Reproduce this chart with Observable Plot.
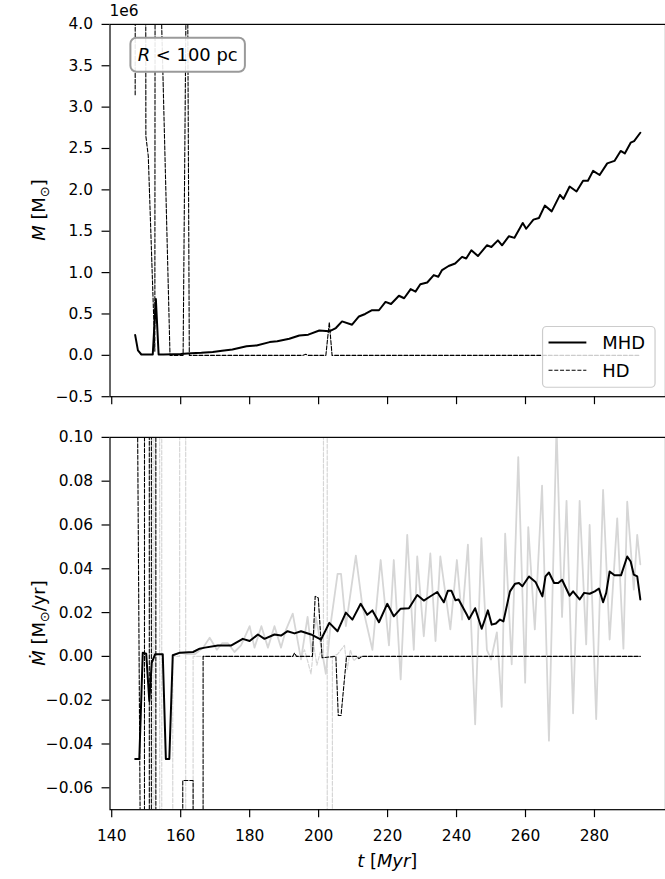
<!DOCTYPE html>
<html><head><meta charset="utf-8">
<script src="https://cdn.jsdelivr.net/npm/d3@7"></script>
<script src="https://cdn.jsdelivr.net/npm/@observablehq/plot@0.6"></script>
<style>
html,body{margin:0;padding:0;overflow:hidden;background:#fff;}
#wrap{position:relative;width:665px;height:879px;overflow:hidden;font-family:"DejaVu Sans",sans-serif;}
#wrap svg{position:absolute;left:0;}
</style></head><body><div id="wrap"></div>
<script>
// ---------- data ----------
const xTicks = [140,160,180,200,220,240,260,280];
const topYTicks = [-0.5,0,0.5,1,1.5,2,2.5,3,3.5,4];
const botYTicks = [-0.06,-0.04,-0.02,0,0.02,0.04,0.06,0.08,0.10];

// top panel: M [1e6 Msun], MHD (solid)
const tTopMHD = [146.8,147.6,148.6,149.6,150.6,151.9,152.8,153.6,155,158,160,163,166,169.3,172,175,179.1,182,185.8,188,191.5,194.4,197,200.2,203.1,205,206.8,209.7,211.7,213.5,215.5,217.5,219.4,221,223.3,224.8,226.7,228.1,229.5,231.5,233.4,234.7,235.8,237.7,239.6,241.6,242.8,244.3,246.2,248.8,250.1,252,253.2,255.2,256.8,259.2,260.2,262.3,263.9,265.6,267.6,270,271,272.8,274.8,276.7,278.1,279.6,281.5,283.7,285.8,287.6,288.8,290.5,291.5,293.3];
const mTopMHD = [0.245,0.06,0.01,0.01,0.01,0.01,0.68,0.01,0.01,0.012,0.015,0.025,0.03,0.04,0.055,0.07,0.11,0.12,0.16,0.17,0.2,0.24,0.25,0.30,0.29,0.33,0.41,0.37,0.47,0.5,0.545,0.545,0.646,0.62,0.72,0.69,0.80,0.77,0.86,0.88,0.97,0.95,1.03,1.08,1.11,1.19,1.17,1.27,1.20,1.33,1.31,1.39,1.33,1.44,1.42,1.60,1.53,1.64,1.66,1.81,1.74,1.94,1.89,2.04,1.98,2.11,2.11,2.23,2.18,2.32,2.35,2.47,2.44,2.57,2.59,2.69];
// top panel: HD (dashed)
const tTopHD = [146.8,147.2,149.3,149.9,150.6,152.5,153.0,154.3,156.9,160.7,161.6,161.8,161.95,162.5,195.5,196.3,197.0,202.1,203.1,203.9,293.3];
const mTopHD = [3.15,30,30,2.65,2.41,0.05,30,4.3,0.0,0.0,4.5,30,5,0.0,0.0,0.012,0.0,0.0,0.40,0.0,0.0];

// bottom panel: dM/dt [Msun/yr], MHD smoothed (solid black)
const tBotMHD = [146.8,148.0,149.0,150.0,150.9,151.6,152.6,154.8,155.7,156.7,157.7,159.8,163.6,165.5,167,170.8,174.7,178,180,182.4,184.3,187.2,189.1,191,193,194.9,197.8,200.7,203.1,205.5,207.9,209.8,212.2,214.1,215.6,217.5,219.9,221.8,223.8,226.2,228.6,230.5,232,234.4,236.3,237.5,238.5,239.7,240.6,243,243.6,245.4,247.3,249.1,250.2,251.4,252.6,253.6,255.5,257,258.1,259.1,261,262.9,264.9,265.8,266.8,268.3,269.5,270.6,272.8,273.8,275.7,277,278.6,280.1,281.3,282.5,283.4,284.4,285.8,287.7,289.5,290.5,291.4,292.4,293.3];
const dBotMHD = [-0.0468,-0.0468,0.0017,0.0012,-0.0203,-0.003,0.001,0.001,-0.0468,-0.0468,0.0005,0.0017,0.002,0.0035,0.004,0.005,0.005,0.008,0.007,0.010,0.008,0.010,0.0095,0.0115,0.0105,0.0115,0.010,0.0077,0.0153,0.0115,0.020,0.0168,0.024,0.019,0.021,0.0156,0.024,0.0183,0.0218,0.022,0.028,0.0255,0.027,0.0294,0.0247,0.030,0.030,0.0256,0.026,0.019,0.017,0.022,0.0126,0.021,0.0145,0.015,0.0168,0.016,0.0297,0.0332,0.0335,0.032,0.0365,0.034,0.0274,0.0365,0.0383,0.0335,0.0335,0.035,0.0277,0.0297,0.026,0.029,0.0286,0.0297,0.031,0.0247,0.029,0.0388,0.037,0.037,0.0456,0.0433,0.0373,0.0365,0.026];
// bottom panel: MHD raw (light grey solid)
const tBotMHDraw = [157.7,159.8,161.8,164.1,166.5,168.4,170.5,172,173.7,175.6,177.5,180,181.4,183.4,185.3,187.2,189.1,190.5,192.5,194.9,196.8,198,199.2,200.8,202.1,203.5,205.5,206.5,207.9,210.8,212.7,215.6,218,220.4,221.8,223.8,225.7,227.6,228.6,230.5,232.4,233.9,235.3,238.2,240.1,241.6,243.3,245.4,247.2,248.8,250,251.7,253.1,254.1,256,257.9,259.9,260.8,262.7,264.8,266.8,269,270.6,271.9,273.8,275.7,277.6,278.6,280.5,282.5,284.4,286.6,288.4,289.5,291.4,292.4,293.3];
const dBotMHDraw = [0.0005,0.0017,0.001,0.001,0.004,0.0085,0.003,0.006,0.006,0.002,0.005,0.0138,0.004,0.0138,0.004,0.0138,0.004,0.012,0.0195,-0.0014,0.018,0.002,0.018,0.004,-0.008,0.015,0.0377,0.0377,0.0138,0.046,0.023,0.003,0.044,0.005,0.044,-0.0105,0.0555,0.003,0.0456,0.0092,0.047,0.007,0.0456,0.0123,0.044,0.0168,0.051,-0.031,0.054,0.003,-0.0014,0.011,-0.023,0.056,-0.0036,0.091,-0.012,0.059,0.0123,0.078,-0.0385,0.105,0.018,0.071,-0.026,0.071,0.0055,0.06,-0.0286,0.076,0.0077,0.063,0.0035,0.0706,0.0305,0.0555,0.042];
// bottom panel: HD smoothed (black dashed)
const tBotHD = [146.9,148.6,149.4,149.6,150.8,151.0,151.4,151.6,152.7,152.9,160.5,160.6,163.6,163.7,166.4,166.5,192.5,193.0,193.6,198.2,199.0,199.9,201.0,205.0,205.7,206.5,207.3,208.1,211.0,211.7,212.5,293.3];
const dBotHD = [0.25,-0.16,-3,3,3,-3,-3,3,3,-3,-3,-0.0567,-0.0567,-3,-3,0,0,0.0015,0,0,0.0274,0.0267,-0.0006,0,-0.027,-0.027,-0.0135,0,0,-0.001,0,0];
// bottom panel: HD raw (light grey dashed)
const tBotHDraw = [151.9,152.1,152.5,152.7,153.8,154.0,154.4,154.6,157.6,157.7,159.7,159.8,161.4,161.5,163.5,163.6,195,195.9,196.8,197.8,198.6,199.5,200.5,201.4,201.6,202.4,202.6,203.8,204.0,205.5,207.5,208.3,209.2,210.2,211.5,293.3];
const dBotHDraw = [-3,3,3,-3,-3,3,3,-3,-3,0,0,3,3,-3,-3,0,0,0.003,-0.002,-0.008,0.005,-0.004,0.002,0,3,3,-3,-3,0,0.001,0.005,-0.006,0.003,-0.002,0,0];

// ---------- build ----------
const rows = (ts, vs) => ts.map((t, i) => ({t, v: vs[i]}));
const xDomain = [139.5, 300.6];
const FONT = "DejaVu Sans";
const TICKFS = 15.5;
const style = {fontFamily: FONT, fontSize: "15.5px", color: "#000", background: "transparent", overflow: "visible"};
const dash = "4,1.8";

const topSvg = Plot.plot({
  width: 668, height: 410,
  marginLeft: 110, marginRight: 0, marginTop: 24, marginBottom: 12,
  style,
  x: {domain: xDomain},
  y: {domain: [-0.5, 4.0]},
  marks: [
    Plot.line(rows(tTopMHD, mTopMHD), {x: "t", y: "v", stroke: "#000", strokeWidth: 2, clip: true}),
    Plot.line(rows(tTopHD, mTopHD), {x: "t", y: "v", stroke: "#000", strokeWidth: 1.1, strokeDasharray: dash, clip: true}),
    Plot.frame({stroke: "#000", strokeWidth: 1.2}),
    Plot.axisY({ticks: topYTicks, tickFormat: d3.format(".1f"), tickSize: 8, tickPadding: 9, label: null, strokeWidth: 1.2, fontSize: TICKFS}),
    Plot.axisX({ticks: xTicks, tickFormat: () => "", tickSize: 8, label: null, strokeWidth: 1.2})
  ]
});

const botSvg = Plot.plot({
  width: 668, height: 469,
  marginLeft: 110, marginRight: 0, marginTop: 27, marginBottom: 68,
  style,
  x: {domain: xDomain},
  y: {domain: [-0.07, 0.10]},
  marks: [
    Plot.line(rows(tBotMHDraw, dBotMHDraw), {x: "t", y: "v", stroke: "#d6d6d6", strokeWidth: 1.8, clip: true}),
    Plot.line(rows(tBotHDraw, dBotHDraw), {x: "t", y: "v", stroke: "#d6d6d6", strokeWidth: 1.2, strokeDasharray: dash, clip: true}),
    Plot.line(rows(tBotMHD, dBotMHD), {x: "t", y: "v", stroke: "#000", strokeWidth: 2, clip: true}),
    Plot.line(rows(tBotHD, dBotHD), {x: "t", y: "v", stroke: "#000", strokeWidth: 1.1, strokeDasharray: dash, clip: true}),
    Plot.frame({stroke: "#000", strokeWidth: 1.2}),
    Plot.axisY({ticks: botYTicks, tickFormat: d3.format(".2f"), tickSize: 8, tickPadding: 9, label: null, strokeWidth: 1.2, fontSize: TICKFS}),
    Plot.axisX({ticks: xTicks, tickFormat: d3.format("d"), tickSize: 8, tickPadding: 12, label: null, strokeWidth: 1.2, fontSize: TICKFS})
  ]
});

const wrap = document.getElementById("wrap");
topSvg.style.top = "0px";
botSvg.style.top = "410px";
wrap.appendChild(topSvg);
wrap.appendChild(botSvg);

// ---------- annotations ----------
const ts = d3.select(topSvg);
// offset text
ts.append("text").attr("x", 110).attr("y", 16).attr("text-anchor", "start").attr("font-size", 15.5).attr("fill", "#000").text("1e6");
// R < 100 pc box
const ann = ts.append("g");
ann.append("rect").attr("x", 131).attr("y", 38).attr("width", 115).attr("height", 34).attr("rx", 6)
  .attr("fill", "#fff").attr("fill-opacity", 0.9).attr("stroke", "#9a9a9a").attr("stroke-width", 2);
const annT = ann.append("text").attr("x", 188.5).attr("y", 61).attr("text-anchor", "middle").attr("font-size", 18).attr("fill", "#000");
annT.append("tspan").attr("font-style", "italic").text("R");
annT.append("tspan").text(" < 100 pc");
// legend
const lg = ts.append("g");
lg.append("rect").attr("x", 545).attr("y", 328).attr("width", 113).attr("height", 61).attr("rx", 4)
  .attr("fill", "#fff").attr("fill-opacity", 0.8).attr("stroke", "#cccccc").attr("stroke-width", 1.2);
lg.append("line").attr("x1", 551).attr("x2", 589).attr("y1", 344).attr("y2", 344).attr("stroke", "#000").attr("stroke-width", 2);
lg.append("line").attr("x1", 551).attr("x2", 589).attr("y1", 372).attr("y2", 372).attr("stroke", "#000").attr("stroke-width", 1.1).attr("stroke-dasharray", dash);
lg.append("text").attr("x", 605).attr("y", 350.5).attr("text-anchor", "start").attr("font-size", 18).attr("fill", "#000").text("MHD");
lg.append("text").attr("x", 605).attr("y", 378.5).attr("text-anchor", "start").attr("font-size", 18).attr("fill", "#000").text("HD");
// y label top
const yl1 = ts.append("text").attr("transform", "translate(45,211) rotate(-90)").attr("text-anchor", "middle").attr("font-size", 18).attr("fill", "#000");
yl1.append("tspan").attr("font-style", "italic").text("M");
yl1.append("tspan").text(" [M");
yl1.append("tspan").attr("font-size", 13).attr("dy", 4).text("⊙");
yl1.append("tspan").attr("dy", -4).text("]");

const bs = d3.select(botSvg);
const yl2 = bs.append("text").attr("transform", "translate(45,214) rotate(-90)").attr("text-anchor", "middle").attr("font-size", 18).attr("fill", "#000");
yl2.append("tspan").attr("font-style", "italic").text("Ṁ");
yl2.append("tspan").text(" [M");
yl2.append("tspan").attr("font-size", 13).attr("dy", 4).text("⊙");
yl2.append("tspan").attr("dy", -4).text("/yr]");
// x label
const xl = bs.append("text").attr("x", 389).attr("y", 459).attr("text-anchor", "middle").attr("font-size", 18).attr("fill", "#000");
xl.append("tspan").attr("font-style", "italic").text("t");
xl.append("tspan").text(" [");
xl.append("tspan").attr("font-style", "italic").text("Myr");
xl.append("tspan").text("]");
</script>
</body></html>
